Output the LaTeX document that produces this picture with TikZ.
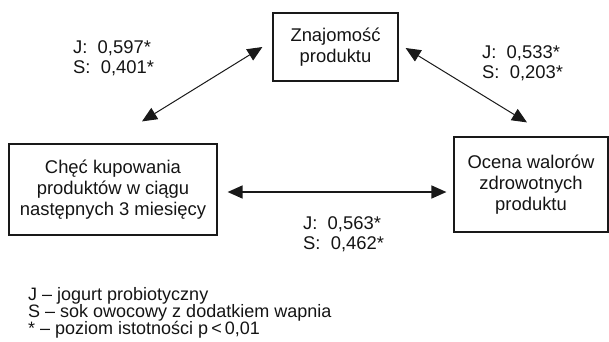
\documentclass[tikz,border=0pt]{standalone}
\usepackage{fontspec}
\setmainfont{Liberation Sans}
\usetikzlibrary{arrows.meta,calc}
\newcommand\mytightlines{\lineskiplimit=-30pt\relax\lineskip=0pt\relax}
\begin{document}
\begin{tikzpicture}[x=1pt,y=-1pt,
  every node/.style={text=black!92},
  box/.style={draw=black!90, line width=1.2pt, inner sep=0pt, align=center, font=\fontsize{18.4}{21}\selectfont},
  lbl/.style={inner sep=0pt, align=left, anchor=west, font=\fontsize{18.4}{20.5}\selectfont},
  tri/.tip={Triangle[length=15pt,width=13pt]},
  dbl/.style={draw=black!90, line width=1pt, tri-tri},
]
\useasboundingbox (0,0) rectangle (609,341);
\node[box, minimum width=125pt, minimum height=68pt] (zn) at (335.5,47) {Znajomość\\produktu};
\node[box, minimum width=208pt, minimum height=91pt] (ch) at (113,189.5) {Chęć kupowania\\produktów w ciągu\\następnych 3 miesięcy};
\node[box, minimum width=154pt, minimum height=95pt] (oc) at (531,184.5) {Ocena walorów\\zdrowotnych\\produktu};
\coordinate (a1) at ($(ch.north)+(29,-22)$);
\coordinate (a2) at ($(zn.west)+(-10,0)$);
\coordinate (b1) at ($(zn.east)+(7,1)$);
\coordinate (b2) at ($(oc.north)+(-4,-14)$);
\coordinate (h1) at ($(ch.east)+(10,2.5)$);
\coordinate (h2) at ($(oc.west)+(-7,7.5)$);
\draw[dbl] (a1) -- (a2);
\draw[dbl] (b1) -- (b2);
\draw[dbl, line width=1.5pt] (h1) -- (h2);
\node[lbl] (la) at (73,58) {J:~ 0,597*\\S:~ 0,401*};
\node[lbl] (lb) at (482,63) {J:~ 0,533*\\S:~ 0,203*};
\node[lbl] (lc) at (303,234) {J:~ 0,563*\\S:~ 0,462*};
\node[inner sep=0pt, align=left, anchor=north west, font=\fontsize{18}{17.2}\selectfont\mytightlines] (leg) at (28,286.8)
  {J – jogurt probiotyczny\\S – sok owocowy z dodatkiem wapnia\\* – poziom istotności p\,<\,0,01};
\end{tikzpicture}
\end{document}
